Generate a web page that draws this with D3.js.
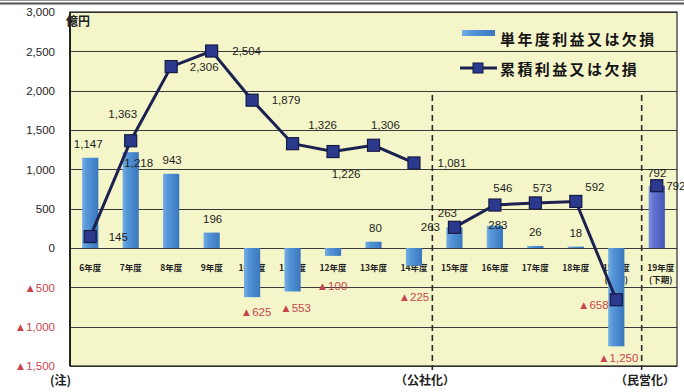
<!DOCTYPE html>
<html><head><meta charset="utf-8">
<script src="https://cdn.jsdelivr.net/npm/d3@7"></script>
<style>
html,body{margin:0;padding:0;background:#fff;}
svg{display:block;}
</style></head>
<body><svg id="chart" width="684" height="392"></svg>
<script>
// ---- data (億円) ----
const categories = ["6年度","7年度","8年度","9年度","10年度","11年度","12年度","13年度","14年度","15年度","16年度","17年度","18年度","19年度(上期)","19年度(下期)"];
const annualProfit = [1147,1218,943,196,-625,-553,-100,80,-225,263,283,26,18,-1250,792];
const cumulativeProfit = [145,1363,2306,2504,1879,1326,1226,1306,1081,263,546,573,592,-658,792];
const yTicks = [-1500,-1000,-500,0,500,1000,1500,2000,2500,3000];
const eraStarts = ["15年度","19年度(下期)"];      // the cumulative line restarts here
const eraNotes = ["（公社化）","（民営化）"];
const seriesNames = ["単年度利益又は欠損","累積利益又は欠損"];
const unitLabel = "億円";
const footNote = "(注)";

// ---- layout ----
const plot = {left:70, right:677, top:12, bottom:366};
// label nudges [dx, dy] relative to bar end / marker centre
const barLabelNudge = [[-2,-14],[8,11],[1,-14],[1,-14],[4,15],[3,16],[-1,30],[2,-14],[0,31],[-24,0],[3,-1],[0,-14],[0,-14],[2,12],[19,0]];
const lineLabelNudge = [[28,0],[-8,-27],[33,0],[35,0],[34,0],[30,-19],[13,22],[12,-20],[38,0],[-7,-14],[8,-17],[7,-15],[19,-14],[-23,5],[0,-13]];
const catLabelNudge = {"19年度(下期)": 4};
const dividerNudge = [-14,-7];
const noteX = [395,615];

const NEG = "#c8454f", INK = "#1e1e1e";
const numFont = "'Liberation Sans', Arial, sans-serif";
const jpFont = "'Noto Sans CJK JP', sans-serif";

const svg = d3.select("#chart");
const fmt = v => (v < 0 ? "▲" : "") + d3.format(",")(Math.abs(v));

const x = d3.scaleBand().domain(categories).range([plot.left, plot.right]).paddingInner(0.6).paddingOuter(0.3);
const y = d3.scaleLinear().domain([-1500, 3000]).range([plot.bottom, plot.top]);
const cx = c => x(c) + x.bandwidth() / 2;

// gradients for the bars
const defs = svg.append("defs");
function grad(id, stops) {
  const g = defs.append("linearGradient").attr("id", id).attr("x1", "0").attr("x2", "1").attr("y1", "0").attr("y2", "0");
  stops.forEach(([o, c]) => g.append("stop").attr("offset", o).attr("stop-color", c));
}
grad("barBlue", [[0, "#74aee3"], [0.3, "#5495d7"], [1, "#3a77bf"]]);
grad("barViolet", [[0, "#8294de"], [0.3, "#6173cf"], [1, "#4455b6"]]);

// document rules above the chart
svg.append("line").attr("x1", 0).attr("x2", 684).attr("y1", 3.5).attr("y2", 3.5).attr("stroke", "#555").attr("stroke-width", 2);
svg.append("line").attr("x1", 0).attr("x2", 684).attr("y1", 0.5).attr("y2", 0.5).attr("stroke", "#999").attr("stroke-width", 1);

// plot background
svg.append("rect").attr("x", plot.left).attr("y", plot.top).attr("width", plot.right - plot.left).attr("height", plot.bottom - plot.top).attr("fill", "#f4f6c9");

// gridlines
svg.append("g").selectAll("line").data(yTicks).join("line")
  .attr("x1", plot.left).attr("x2", plot.right)
  .attr("y1", d => Math.round(y(d)) + 0.5).attr("y2", d => Math.round(y(d)) + 0.5)
  .attr("stroke", "#3a3a3a").attr("stroke-width", 1.1);

// y axis labels
const yAxis = d3.axisLeft(y).tickValues(yTicks).tickSize(0).tickPadding(15).tickFormat(fmt);
const ya = svg.append("g").attr("transform", `translate(${plot.left},0)`).call(yAxis);
ya.select(".domain").remove();
ya.selectAll("text").attr("font-family", numFont).attr("font-size", 11.5)
  .attr("fill", d => d < 0 ? NEG : INK);

// category labels (under the bars)
const catG = svg.append("g").attr("font-family", jpFont).attr("font-size", 8.5).attr("font-weight", 700).attr("fill", "#222").attr("text-anchor", "middle");
categories.forEach(c => {
  const parts = c.split("(");
  const xc = cx(c) + (catLabelNudge[c] || 0);
  const t = catG.append("text").attr("x", xc).attr("y", 271);
  t.append("tspan").attr("x", xc).text(parts[0]);
  if (parts[1]) t.append("tspan").attr("x", xc).attr("dy", 12).text("(" + parts[1]);
});

// annual bars
const eraIndex = i => eraStarts.filter(c => categories.indexOf(c) <= i).length;
svg.append("g").selectAll("rect").data(annualProfit).join("rect")
  .attr("x", (d, i) => x(categories[i]))
  .attr("width", x.bandwidth())
  .attr("y", d => y(Math.max(0, d)))
  .attr("height", d => Math.abs(y(d) - y(0)))
  .attr("fill", (d, i) => eraIndex(i) === 2 ? "url(#barViolet)" : "url(#barBlue)");

// era dividers
eraStarts.forEach((c, k) => {
  const xv = x(c) + dividerNudge[k];
  svg.append("line").attr("x1", xv).attr("x2", xv).attr("y1", 95).attr("y2", 370)
    .attr("stroke", "#2a2a2a").attr("stroke-width", 1.6).attr("stroke-dasharray", "6,4");
  svg.append("text").attr("x", noteX[k]).attr("y", 385).attr("font-family", jpFont)
    .attr("font-size", 12).attr("font-weight", 700).attr("fill", "#222").text(eraNotes[k]);
});

// plot frame
svg.append("rect").attr("x", plot.left).attr("y", plot.top).attr("width", plot.right - plot.left).attr("height", plot.bottom - plot.top)
  .attr("fill", "none").attr("stroke", "#2a2a2a").attr("stroke-width", 1.2);
svg.append("line").attr("x1", plot.left).attr("x2", plot.left).attr("y1", plot.top).attr("y2", plot.bottom).attr("stroke", "#222").attr("stroke-width", 2);

// cumulative line, split at each era start
const points = categories.map((c, i) => ({c, v: cumulativeProfit[i], i}));
const segments = [];
let cur = [];
points.forEach(p => { if (eraStarts.includes(p.c) && cur.length) { segments.push(cur); cur = []; } cur.push(p); });
segments.push(cur);
const line = d3.line().x(p => cx(p.c)).y(p => y(p.v));
svg.append("g").selectAll("path").data(segments).join("path")
  .attr("d", line).attr("fill", "none").attr("stroke", "#1b2150").attr("stroke-width", 3);
const ms = 12;
svg.append("g").selectAll("rect").data(points).join("rect")
  .attr("x", p => cx(p.c) - ms / 2).attr("y", p => y(p.v) - ms / 2)
  .attr("width", ms).attr("height", ms)
  .attr("fill", "#2c3a8e").attr("stroke", "#151a44").attr("stroke-width", 1.2);

// value labels
const lab = svg.append("g").attr("font-family", numFont).attr("font-size", 11.5).attr("text-anchor", "middle").attr("dominant-baseline", "central");
annualProfit.forEach((v, i) => {
  const c = categories[i];
  lab.append("text").attr("x", cx(c) + barLabelNudge[i][0]).attr("y", y(v) + barLabelNudge[i][1])
    .attr("fill", v < 0 ? NEG : INK).text(fmt(v));
});
points.forEach(p => {
  lab.append("text").attr("x", cx(p.c) + lineLabelNudge[p.i][0]).attr("y", y(p.v) + lineLabelNudge[p.i][1])
    .attr("fill", p.v < 0 ? NEG : INK).text(fmt(p.v));
});

// unit
svg.append("text").attr("x", 66).attr("y", 26).attr("font-family", jpFont).attr("font-size", 12).attr("font-weight", 700).attr("fill", "#222").text(unitLabel);

// legend
const lg = svg.append("g").attr("font-family", jpFont).attr("font-size", 15).attr("font-weight", 600).attr("fill", "#151515").attr("letter-spacing", 2.4);
lg.append("rect").attr("x", 462).attr("y", 30).attr("width", 33).attr("height", 6).attr("fill", "url(#barBlue)");
lg.append("text").attr("x", 500).attr("y", 38).attr("dominant-baseline", "central").text(seriesNames[0]);
lg.append("line").attr("x1", 460).attr("x2", 497).attr("y1", 68).attr("y2", 68).attr("stroke", "#1b2150").attr("stroke-width", 3);
lg.append("rect").attr("x", 473).attr("y", 63).attr("width", 10).attr("height", 10).attr("fill", "#2c3a8e").attr("stroke", "#151a44");
lg.append("text").attr("x", 500).attr("y", 68).attr("dominant-baseline", "central").text(seriesNames[1]);

// footnote marker
svg.append("text").attr("x", 50).attr("y", 385).attr("font-family", jpFont).attr("font-size", 12).attr("font-weight", 700).attr("fill", "#222").text(footNote);
</script>
</body></html>
